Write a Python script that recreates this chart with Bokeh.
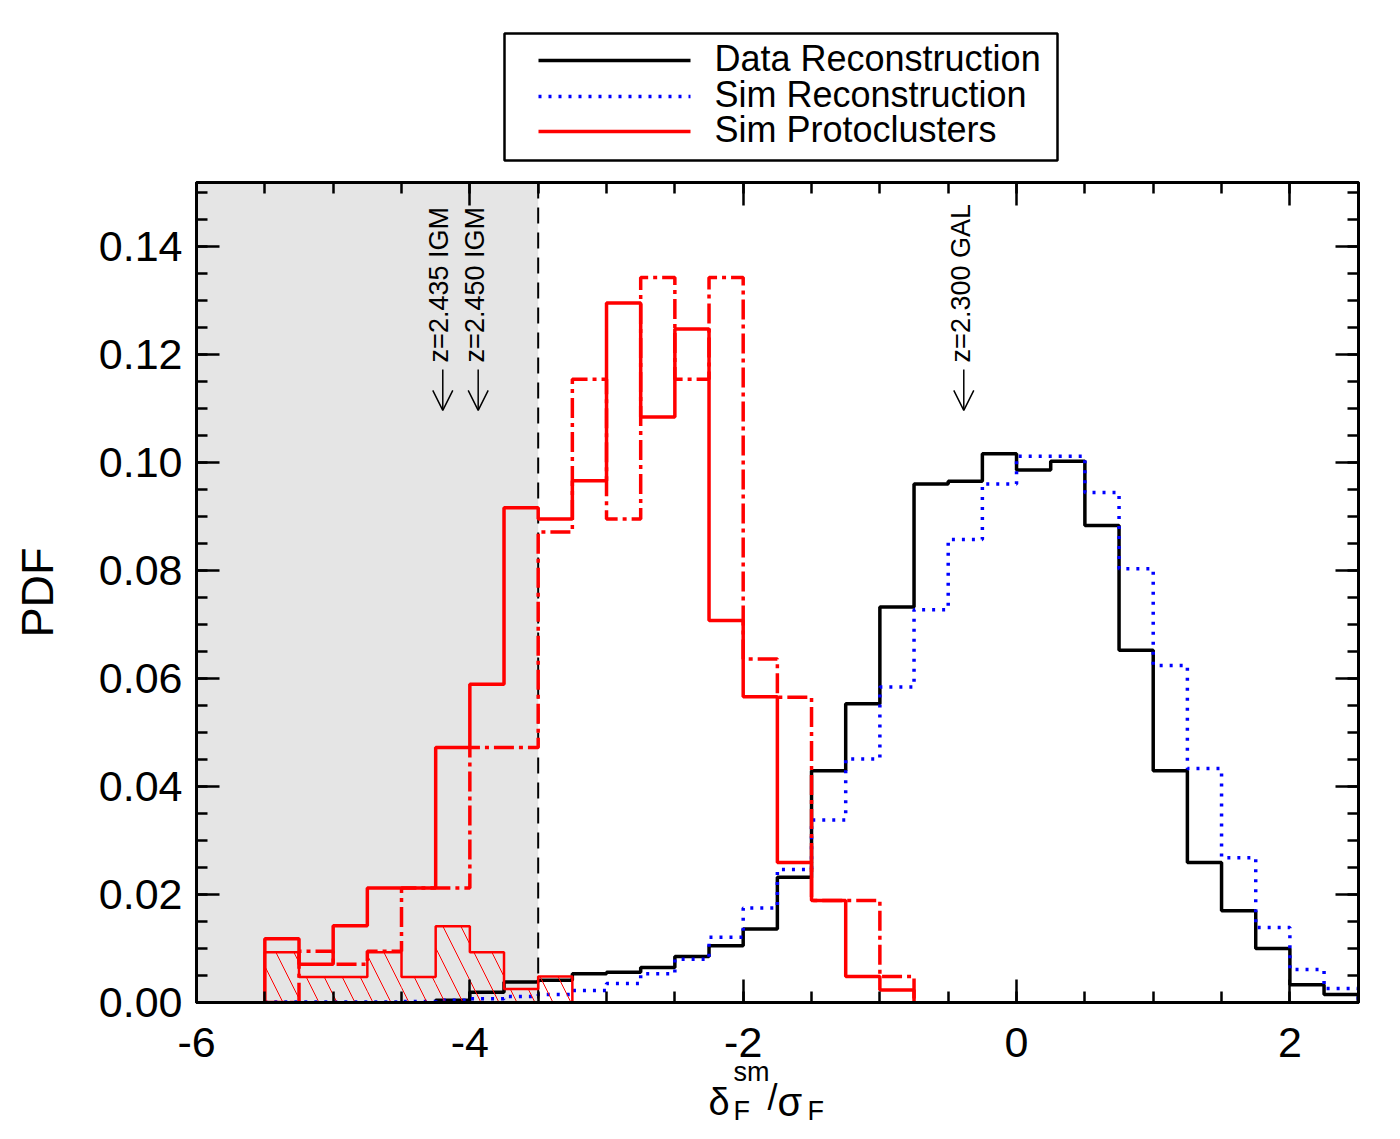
from bokeh.plotting import figure
from bokeh.layouts import column
from bokeh.models import (FixedTicker, LinearAxis, Range1d, BoxAnnotation, Span, Label,
                          Arrow, OpenHead, NumeralTickFormatter, ColumnDataSource)
from bokeh.core.properties import value
from bokeh.embed import file_html
from bokeh.resources import INLINE

FONT = "Liberation Sans"
BIN_W = 0.25

# ---- data (bin left edges and PDF values) ----
data_left = [-4.25, -4.0, -3.75, -3.5, -3.25, -3.0, -2.75, -2.5, -2.25, -2.0, -1.75,
             -1.5, -1.25, -1.0, -0.75, -0.5, -0.25, 0.0, 0.25, 0.5, 0.75, 1.0, 1.25,
             1.5, 1.75, 2.0, 2.25]
data_pdf = [0.0004, 0.0019, 0.0038, 0.0041, 0.0053, 0.0056, 0.0065, 0.0085, 0.0105, 0.0136,
            0.0232, 0.0429, 0.0553, 0.0732, 0.0960, 0.0965, 0.1016, 0.0986, 0.1002, 0.0883,
            0.0652, 0.0429, 0.0259, 0.0170, 0.0100, 0.0033, 0.0015]

sim_left = [-5.5, -5.25, -5.0, -4.75, -4.5, -4.25, -4.0, -3.75, -3.5, -3.25, -3.0, -2.75,
            -2.5, -2.25, -2.0, -1.75, -1.5, -1.25, -1.0, -0.75, -0.5, -0.25, 0.0, 0.25,
            0.5, 0.75, 1.0, 1.25, 1.5, 1.75, 2.0, 2.25]
sim_pdf = [0.0001, 0.0001, 0.0001, 0.0001, 0.0002, 0.0004, 0.0007, 0.0011, 0.0015, 0.0022,
           0.0035, 0.0053, 0.0080, 0.0121, 0.0175, 0.0246, 0.0338, 0.0451, 0.0584, 0.0727,
           0.0857, 0.0960, 0.1011, 0.1011, 0.0944, 0.0803, 0.0624, 0.0433, 0.0268, 0.0139,
           0.0061, 0.0026]

proto_left = [-5.5, -5.25, -5.0, -4.75, -4.5, -4.25, -4.0, -3.75, -3.5, -3.25, -3.0, -2.75,
              -2.5, -2.25, -2.0, -1.75, -1.5, -1.25, -1.0]
proto_pdf = [0.0118, 0.0071, 0.0142, 0.0212, 0.0212, 0.0472, 0.0589, 0.0916, 0.0895, 0.0966,
             0.1295, 0.1084, 0.1247, 0.0707, 0.0566, 0.0259, 0.0189, 0.0048, 0.0023]
proto_alt_pdf = [0.0, 0.0095, 0.0071, 0.0095, 0.0212, 0.0212, 0.0472, 0.0472, 0.0871, 0.1154,
                 0.0895, 0.1342, 0.1154, 0.1342, 0.0636, 0.0565, 0.0189, 0.0189, 0.0048]

hatch_left = [-5.5, -5.25, -5.0, -4.75, -4.5, -4.25, -4.0, -3.75, -3.5]
hatch_pdf = [0.0093, 0.0047, 0.0047, 0.0093, 0.0047, 0.0141, 0.0093, 0.0025, 0.0048]

shade_edge = -3.5
arrow_x = [-4.198, -3.939, -0.386]
arrow_text_x = [-4.227, -3.959, -0.410]
arrow_text = ["z=2.435 IGM", "z=2.450 IGM", "z=2.300 GAL"]

legend_labels = ["Data Reconstruction", "Sim Reconstruction", "Sim Protoclusters"]

x_major = [-6, -4, -2, 0, 2]
x_minor = [-6 + 0.5 * i for i in range(18)]
y_major = [0.0, 0.02, 0.04, 0.06, 0.08, 0.10, 0.12, 0.14]
y_minor = [0.005 * i for i in range(31)]

# ---- layout constants ----
W = 1388
BL, BR = 196, 30          # left / right borders of the plot frame
LEG_H = 168               # legend strip height
TOP_B, FRAME_H, BOT_B = 14, 820, 90
XL_H = 75                 # x-title strip height
XL_GAP = 58               # strip top, in px below the frame bottom
XL_OVERLAP = BOT_B - XL_GAP + 10
Y_MIN, Y_MAX = 0.0, 0.1518
PX_PER_Y = FRAME_H / (Y_MAX - Y_MIN)

# legend box geometry (pixels in the legend strip)
LEG_BOX = dict(left=504, right=1057, top=33, bottom=160)
LEG_ROW_Y = [60, 96, 131]
LEG_LINE_X = (538, 690)
LEG_TEXT_X = 714


def outline(left, vals):
    xs = [left[0]]
    ys = [0.0]
    for l, v in zip(left, vals):
        xs += [l, l + BIN_W]
        ys += [v, v]
    xs.append(left[-1] + BIN_W)
    ys.append(0.0)
    return xs, ys


x_range = Range1d(-6, 2.502)

# ================= main plot =================
p = figure(width=W, height=TOP_B + FRAME_H + BOT_B, x_range=x_range,
           y_range=Range1d(Y_MIN, Y_MAX), output_backend="svg", toolbar_location=None,
           min_border_left=BL, min_border_right=BR, min_border_top=TOP_B,
           min_border_bottom=BOT_B)
p.xgrid.visible = False
p.ygrid.visible = False
p.outline_line_color = "black"
p.outline_line_width = 3
p.background_fill_color = "white"


def style_axis(ax, ticker):
    ax.ticker = ticker
    ax.major_tick_in = 23
    ax.major_tick_out = 0
    ax.minor_tick_in = 11
    ax.minor_tick_out = 0
    ax.axis_line_width = 3
    ax.axis_line_color = "black"
    ax.major_tick_line_width = 2.5
    ax.minor_tick_line_width = 2.5
    ax.major_tick_line_color = "black"
    ax.minor_tick_line_color = "black"
    ax.major_label_text_font = FONT
    ax.major_label_text_font_size = "43px"
    ax.major_label_text_color = "black"


xt = FixedTicker(ticks=x_major, minor_ticks=x_minor)
yt = FixedTicker(ticks=y_major, minor_ticks=y_minor)
style_axis(p.xaxis[0], xt)
style_axis(p.yaxis[0], yt)
p.xaxis[0].major_label_standoff = 25
p.xaxis[0].major_label_overrides = {v: str(v) for v in x_major}
p.yaxis[0].major_label_standoff = 14
p.yaxis[0].formatter = NumeralTickFormatter(format="0.00")
p.yaxis[0].axis_label = "PDF"
p.yaxis[0].axis_label_text_font = FONT
p.yaxis[0].axis_label_text_font_size = "45px"
p.yaxis[0].axis_label_text_font_style = "normal"
p.yaxis[0].axis_label_text_color = "black"
p.yaxis[0].axis_label_standoff = 33

top_ax = LinearAxis()
style_axis(top_ax, xt)
top_ax.major_label_overrides = {v: "" for v in x_major}
top_ax.major_label_text_font_size = "0px"
top_ax.major_label_standoff = 0
right_ax = LinearAxis()
style_axis(right_ax, yt)
right_ax.major_label_overrides = {v: "" for v in y_major}
right_ax.major_label_text_font_size = "0px"
right_ax.major_label_standoff = 0
p.add_layout(top_ax, "above")
p.add_layout(right_ax, "right")

# shaded region and its edge
p.add_layout(BoxAnnotation(left=-6, right=shade_edge, fill_color="#e5e5e5", fill_alpha=1,
                           line_color=None, level="underlay"))
p.add_layout(Span(location=shade_edge, dimension="height", line_color="black",
                  line_width=2, line_dash="16 9", level="underlay"))

# histograms
STY_DATA = dict(line_color="black", line_width=3.5)
STY_SIM = dict(line_color="blue", line_width=3.5, line_dash="3 7")
STY_PROTO = dict(line_color="red", line_width=3.5)

bx, by = outline(data_left, data_pdf)
p.line(bx, by, **STY_DATA)
sx, sy = outline(sim_left, sim_pdf)
p.line(sx, sy, **STY_SIM)
ax_, ay_ = outline(proto_left, proto_alt_pdf)
p.line(ax_, ay_, line_color="red", line_width=3.5, line_dash="20 5 4 5")
px_, py_ = outline(proto_left, proto_pdf)
p.line(px_, py_, **STY_PROTO)
p.quad(left=hatch_left, right=[l + BIN_W for l in hatch_left], bottom=0, top=hatch_pdf,
       fill_alpha=0, line_color=None, hatch_pattern="\\", hatch_color="red",
       hatch_weight=1, hatch_scale=36)
hx, hy = outline(hatch_left, hatch_pdf)
p.line(hx, hy, line_color="red", line_width=2.5)

# arrows with redshift labels
for xa, xtx, txt in zip(arrow_x, arrow_text_x, arrow_text):
    p.add_layout(Arrow(end=OpenHead(size=20, line_width=1.5, line_color="black"),
                       x_start=xa, y_start=0.1172, x_end=xa, y_end=0.1096,
                       line_width=1.5, line_color="black"))
    p.add_layout(Label(x=xtx, y=0.1185, text=txt, angle=90, angle_units="deg",
                       text_align="left", text_baseline="middle", text_font=FONT,
                       text_font_size="27px", text_color="black"))

# ================= legend strip (pixel coordinates, y downward) =================
lg = figure(width=W, height=LEG_H, x_range=Range1d(BL, W - BR), y_range=Range1d(LEG_H, 0),
            output_backend="svg", toolbar_location=None, x_axis_type=None,
            y_axis_type=None, min_border_left=BL, min_border_right=BR,
            min_border_top=0, min_border_bottom=0)
lg.outline_line_color = None
lg.xgrid.visible = False
lg.ygrid.visible = False
lg.quad(fill_color="white", line_color="black", line_width=2.5, **LEG_BOX)
for yrow, sty in zip(LEG_ROW_Y, [STY_DATA, STY_SIM, STY_PROTO]):
    lg.line(list(LEG_LINE_X), [yrow, yrow], **sty)
lg.text(x=[LEG_TEXT_X] * 3, y=[y - 2 for y in LEG_ROW_Y], text=legend_labels,
        text_font=value(FONT), text_font_size="36px", text_align="left",
        text_baseline="middle", text_color="black")

# ================= x-axis title strip =================
xl_y1 = Y_MIN - XL_GAP / PX_PER_Y              # data value at strip top
xl_y0 = Y_MIN - (XL_GAP + XL_H) / PX_PER_Y     # data value at strip bottom
xl = figure(width=W, height=XL_H, x_range=x_range, y_range=Range1d(xl_y0, xl_y1),
            output_backend="svg", toolbar_location=None, x_axis_type=None,
            y_axis_type=None, min_border_left=BL, min_border_right=BR,
            min_border_top=0, min_border_bottom=0)
xl.margin = (-XL_OVERLAP, 0, 0, 0)
xl.outline_line_color = None
xl.background_fill_alpha = 0
xl.border_fill_alpha = 0
xl.xgrid.visible = False
xl.ygrid.visible = False
xl_src = ColumnDataSource(dict(
    text=["δ", "sm", "F", "/", "σ", "F"],
    x=[-2.254, -2.071, -2.071, -1.822, -1.749, -1.530],
    y=[-0.0202, -0.0148, -0.0219, -0.0194, -0.0202, -0.0219],
    size=["38px", "27px", "27px", "36px", "40px", "27px"]))
xl.text(x="x", y="y", text="text", text_font_size="size", source=xl_src,
        text_font=value(FONT), text_align="left", text_baseline="alphabetic",
        text_color="black")

layout = column(lg, p, xl, spacing=0)
open("out.html", "w").write(file_html(layout, INLINE))
